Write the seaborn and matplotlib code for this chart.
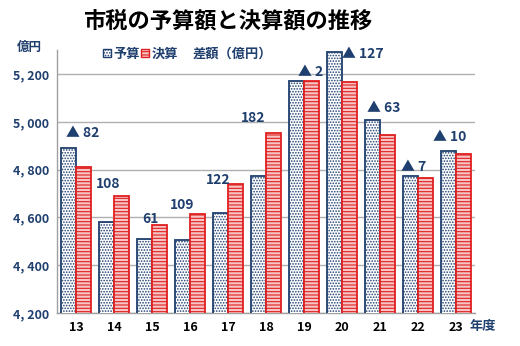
import matplotlib
matplotlib.use("Agg")
import matplotlib.pyplot as plt
import seaborn as sns
import pandas as pd
from matplotlib.patches import Patch

years = ["13", "14", "15", "16", "17", "18", "19", "20", "21", "22", "23"]
budget = [4891, 4582, 4508, 4504, 4617, 4773, 5172, 5293, 5006, 4773, 4876]
settlement = [4809, 4690, 4569, 4613, 4739, 4955, 5170, 5166, 4943, 4766, 4866]
diff_labels = ["▲ 82", "108", "61", "109", "122", "182", "▲ 2", "▲ 127", "▲ 63", "▲ 7", "▲ 10"]
series_names = ["予算", "決算"]
yticks = [4200, 4400, 4600, 4800, 5000, 5200]

# label placement (style): x offset from category, y position in data units
lab_dx = [0.16, -0.16, -0.05, -0.21, -0.26, -0.34, 0.18, 0.55, 0.1, -0.1, -0.16]
lab_y = [4953, 4740, 4593, 4652, 4756, 5016, 5208, 5284, 5058, 4811, 4936]

sns.set_theme(style="white")
plt.rcParams['font.family'] = ['Noto Sans CJK JP', 'DejaVu Sans']
plt.rcParams['hatch.linewidth'] = 0.8

navy = "#1F3F6E"
red = "#E02020"
pink = "#F6C4C4"
dots = "......"

df = pd.DataFrame({
    "year": years * 2,
    "value": budget + settlement,
    "kind": [series_names[0]] * len(years) + [series_names[1]] * len(years),
})

fig = plt.figure(figsize=(5.2, 3.46), dpi=100)
ax = fig.add_axes([0.11, 0.0954, 0.803, 0.7596])

sns.barplot(data=df, x="year", y="value", hue="kind", order=years,
            hue_order=series_names, palette=["white", pink],
            width=0.8, gap=0.0, ax=ax, legend=False, saturation=1)

n = len(years)
for i, p in enumerate(ax.patches[:2 * n]):
    if i < n:
        p.set_facecolor("white")
        p.set_edgecolor(navy)
        p.set_hatch(dots)
    else:
        p.set_facecolor(pink)
        p.set_edgecolor(red)
        p.set_hatch("-----")
    p.set_linewidth(1.3)
    p.set_zorder(3)

ax.set_ylim(4200, 5300)
ax.set_yticks(yticks)
ax.set_yticklabels([f"{v // 1000}, {v % 1000:03d}" for v in yticks],
                   color=navy, fontweight="bold", fontsize=9)
ax.set_xticklabels(years, color="black", fontweight="bold", fontsize=9)
ax.set_xlabel("")
ax.set_ylabel("")
ax.yaxis.grid(True, color="#B0B0B0", linewidth=1)
ax.set_axisbelow(True)
for s in ["top", "right"]:
    ax.spines[s].set_visible(False)
for s in ["left", "bottom"]:
    ax.spines[s].set_color("#A0A0A0")
    ax.spines[s].set_linewidth(1)
ax.tick_params(axis="both", length=0, pad=6)

for i, txt in enumerate(diff_labels):
    ax.text(i + lab_dx[i], lab_y[i], txt, ha="center", va="center",
            color=navy, fontweight="bold", fontsize=10, zorder=5)

fig.text(0.16, 0.94, "市税の予算額と決算額の推移", fontsize=16, fontweight="bold",
         color="black", va="center", ha="left")
fig.text(0.033, 0.862, "億円", fontsize=9, fontweight="bold", color=navy, va="center")
fig.text(0.903, 0.058, "年度", fontsize=9.5, fontweight="bold", color=navy, va="center")

handles = [Patch(facecolor="white", edgecolor=navy, hatch=dots),
           Patch(facecolor=pink, edgecolor=red, hatch="-----")]
leg = fig.legend(handles, series_names, loc="center left", bbox_to_anchor=(0.175, 0.845),
                 ncol=2, frameon=False, handlelength=0.6, handleheight=0.6,
                 handletextpad=0.2, columnspacing=0.1,
                 prop={"family": "Noto Sans CJK JP", "weight": "bold", "size": 9.5})
for t in leg.get_texts():
    t.set_color(navy)
fig.text(0.37, 0.845, "差額（億円）", fontsize=9.5, fontweight="bold", color=navy, va="center")

fig.savefig("out.png", dpi=100)
